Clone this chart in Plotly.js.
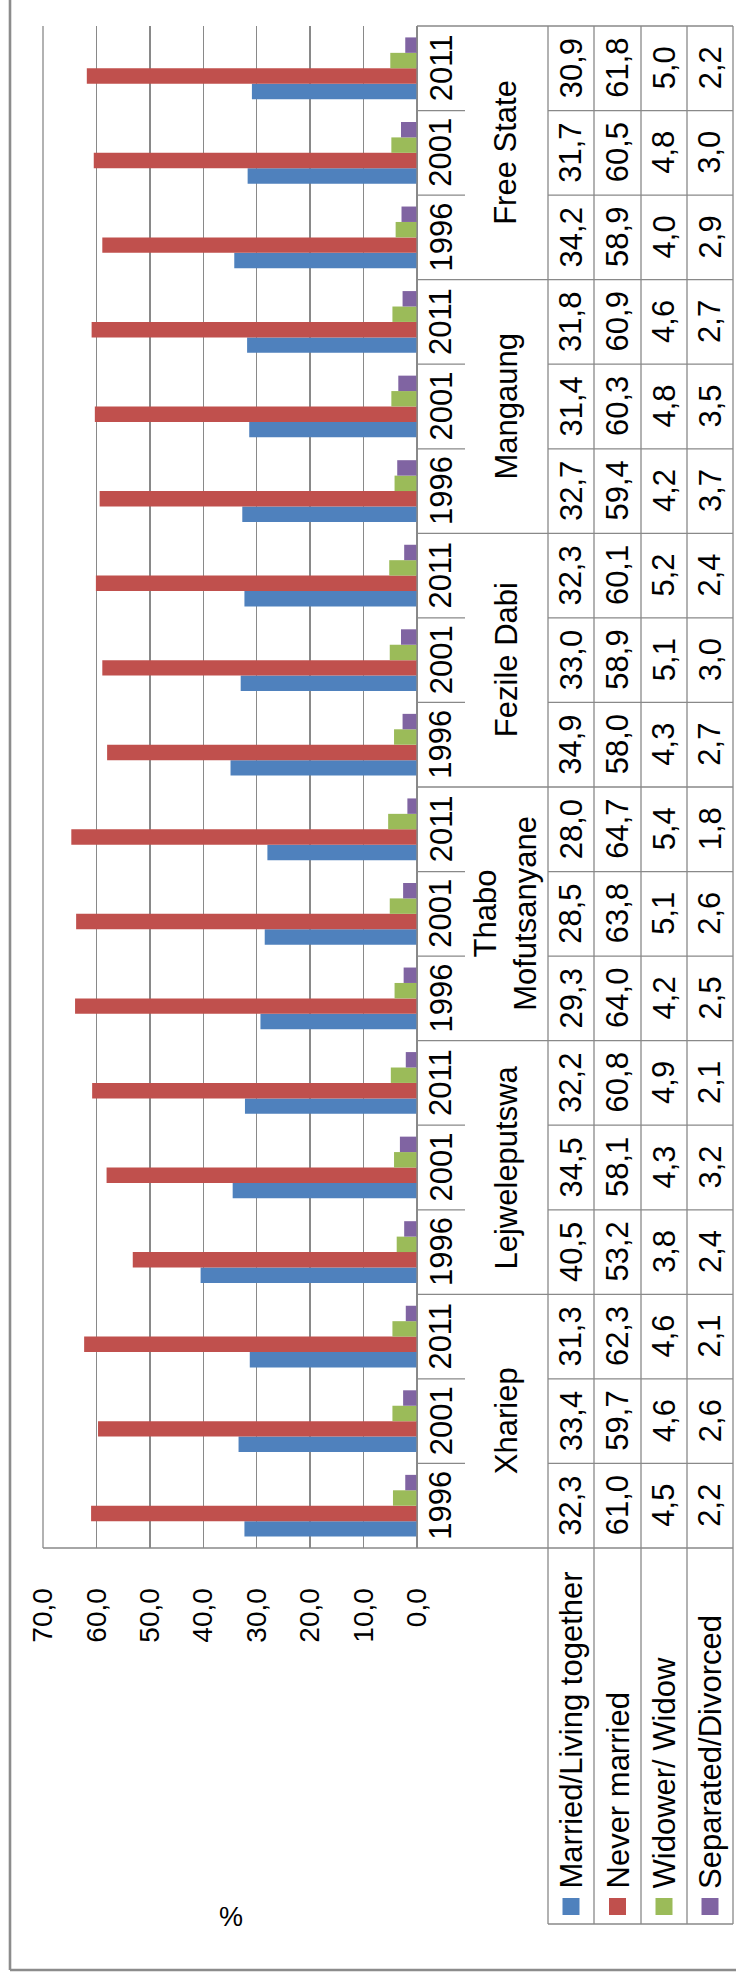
<!DOCTYPE html>
<html><head><meta charset="utf-8">
<script src="https://cdn.plot.ly/plotly-3.0.1.min.js"></script>
<style>html,body{margin:0;padding:0;background:#fff;overflow:hidden}#chart{width:736px;height:1975px}</style>
</head><body><div id="chart"></div>
<script>
// ---- data ----
const regions = ['Xhariep','Lejweleputswa','Thabo Mofutsanyane','Fezile Dabi','Mangaung','Free State'];
const regionLabels = ['Xhariep','Lejweleputswa','Thabo<br>Mofutsanyane','Fezile Dabi','Mangaung','Free State'];
const years = ['1996','2001','2011'];
const seriesNames = ['Married/Living together','Never married','Widower/ Widow','Separated/Divorced'];
const married      = [32.3,33.4,31.3, 40.5,34.5,32.2, 29.3,28.5,28.0, 34.9,33.0,32.3, 32.7,31.4,31.8, 34.2,31.7,30.9];
const neverMarried = [61.0,59.7,62.3, 53.2,58.1,60.8, 64.0,63.8,64.7, 58.0,58.9,60.1, 59.4,60.3,60.9, 58.9,60.5,61.8];
const widowed      = [4.5,4.6,4.6, 3.8,4.3,4.9, 4.2,5.1,5.4, 4.3,5.1,5.2, 4.2,4.8,4.6, 4.0,4.8,5.0];
const separated    = [2.2,2.6,2.1, 2.4,3.2,2.1, 2.5,2.6,1.8, 2.7,3.0,2.4, 3.7,3.5,2.7, 2.9,3.0,2.2];
const xTicks = [0,10,20,30,40,50,60,70];
const axisTitle = '%';

// ---- styles / geometry ----
const colors = ['#4F81BD','#C0504D','#9BBB59','#8064A2'];
const FONT = 'Liberation Sans, Arial, sans-serif';
const LINE = '#898989';
const L = 43, R = 417, T = 26, B = 1548;           // plot area (page px)
const colCenters = [571, 617.5, 664, 710];          // data table columns
const colEdges = [548, 594, 641, 687, 733];
const yearColX = 441, regionColX = 506, tableRight = 733, yearColRight = 465, headerBottom = 1924;
const px = v => (v - L) / (R - L);
const py = v => (B - v) / (B - T);

const cats = regions.flatMap(r => years.map(y => r + ' ' + y));
const nCat = cats.length;
const catH = (B - T) / nCat;
const series = [married, neverMarried, widowed, separated];
const fmt = v => v.toFixed(1).replace('.', ',');

const traces = series.map((vals, s) => ({
  type: 'bar', orientation: 'h', name: seriesNames[s],
  x: vals, y: cats, marker: {color: colors[s]}, hoverinfo: 'skip'
}));

const shapes = [];
const line = (x0, y0, x1, y1, w, c) => shapes.push({type: 'line', xref: 'paper', yref: 'paper',
  x0: px(x0), x1: px(x1), y0: py(y0), y1: py(y1), line: {color: c || LINE, width: w || 1.3}});

// outer chart border
line(10, 0, 10, 1970, 2.6, '#8c8c8c');
line(10, 1970, 736, 1970, 2.6, '#8c8c8c');
// plot edges
line(L, T, L, B);
line(L, B, tableRight, B);
line(R, T, R, B);
line(R, T, tableRight, T);
// table vertical lines
colEdges.forEach(x => line(x, T, x, headerBottom));
line(colEdges[0], headerBottom, tableRight, headerBottom);
// category boundaries
for (let k = 1; k < nCat; k++) {
  const y = B - k * catH;
  if (k % years.length === 0) line(R, y, tableRight, y);
  else { line(R, y, yearColRight, y); line(colEdges[0], y, tableRight, y); }
}
// legend keys in row headers
colCenters.forEach((cx, s) => shapes.push({type: 'rect', xref: 'paper', yref: 'paper',
  x0: px(cx - 8.5), x1: px(cx + 8.5), y0: py(1915), y1: py(1898),
  fillcolor: colors[s], line: {width: 0}}));

const annotations = [];
const ann = (x, y, text, opts) => annotations.push(Object.assign({
  xref: 'paper', yref: 'paper', x: px(x), y: py(y), text, showarrow: false,
  textangle: -90, font: {family: FONT, size: 31, color: '#000'}, xanchor: 'center', yanchor: 'middle'
}, opts || {}));

cats.forEach((c, i) => {
  const yc = B - (i + 0.5) * catH;
  ann(yearColX, yc, years[i % years.length]);
  series.forEach((vals, s) => ann(colCenters[s], yc, fmt(vals[i])));
});
regionLabels.forEach((r, j) => ann(regionColX, B - (j * 3 + 1.5) * catH, r));
seriesNames.forEach((n, s) => ann(colCenters[s], 1891, n, {yanchor: 'bottom'}));
ann(231, 1917, axisTitle, {textangle: 0, font: {family: FONT, size: 27, color: '#000'}});

const layout = {
  width: 736, height: 1975, margin: {l: L, r: 736 - R, t: T, b: 1975 - B, pad: 0},
  paper_bgcolor: '#fff', plot_bgcolor: '#fff', showlegend: false,
  separators: ', ', barmode: 'group', bargap: 0.27, bargroupgap: 0,
  font: {family: FONT, color: '#000'},
  xaxis: {range: [70, 0], tickvals: xTicks, tickformat: '.1f', tickangle: -90,
    showgrid: true, gridcolor: LINE, gridwidth: 1.3, zeroline: true, zerolinecolor: LINE, zerolinewidth: 1.3,
    showline: false, ticks: 'outside', ticklen: 28, tickcolor: 'rgba(0,0,0,0)',
    tickfont: {family: FONT, size: 28, color: '#000'}, fixedrange: true},
  yaxis: {type: 'category', showticklabels: false, showgrid: false, zeroline: false, showline: false, ticks: '', fixedrange: true},
  shapes, annotations
};
Plotly.newPlot('chart', traces, layout, {staticPlot: true, displayModeBar: false});
</script></body></html>
